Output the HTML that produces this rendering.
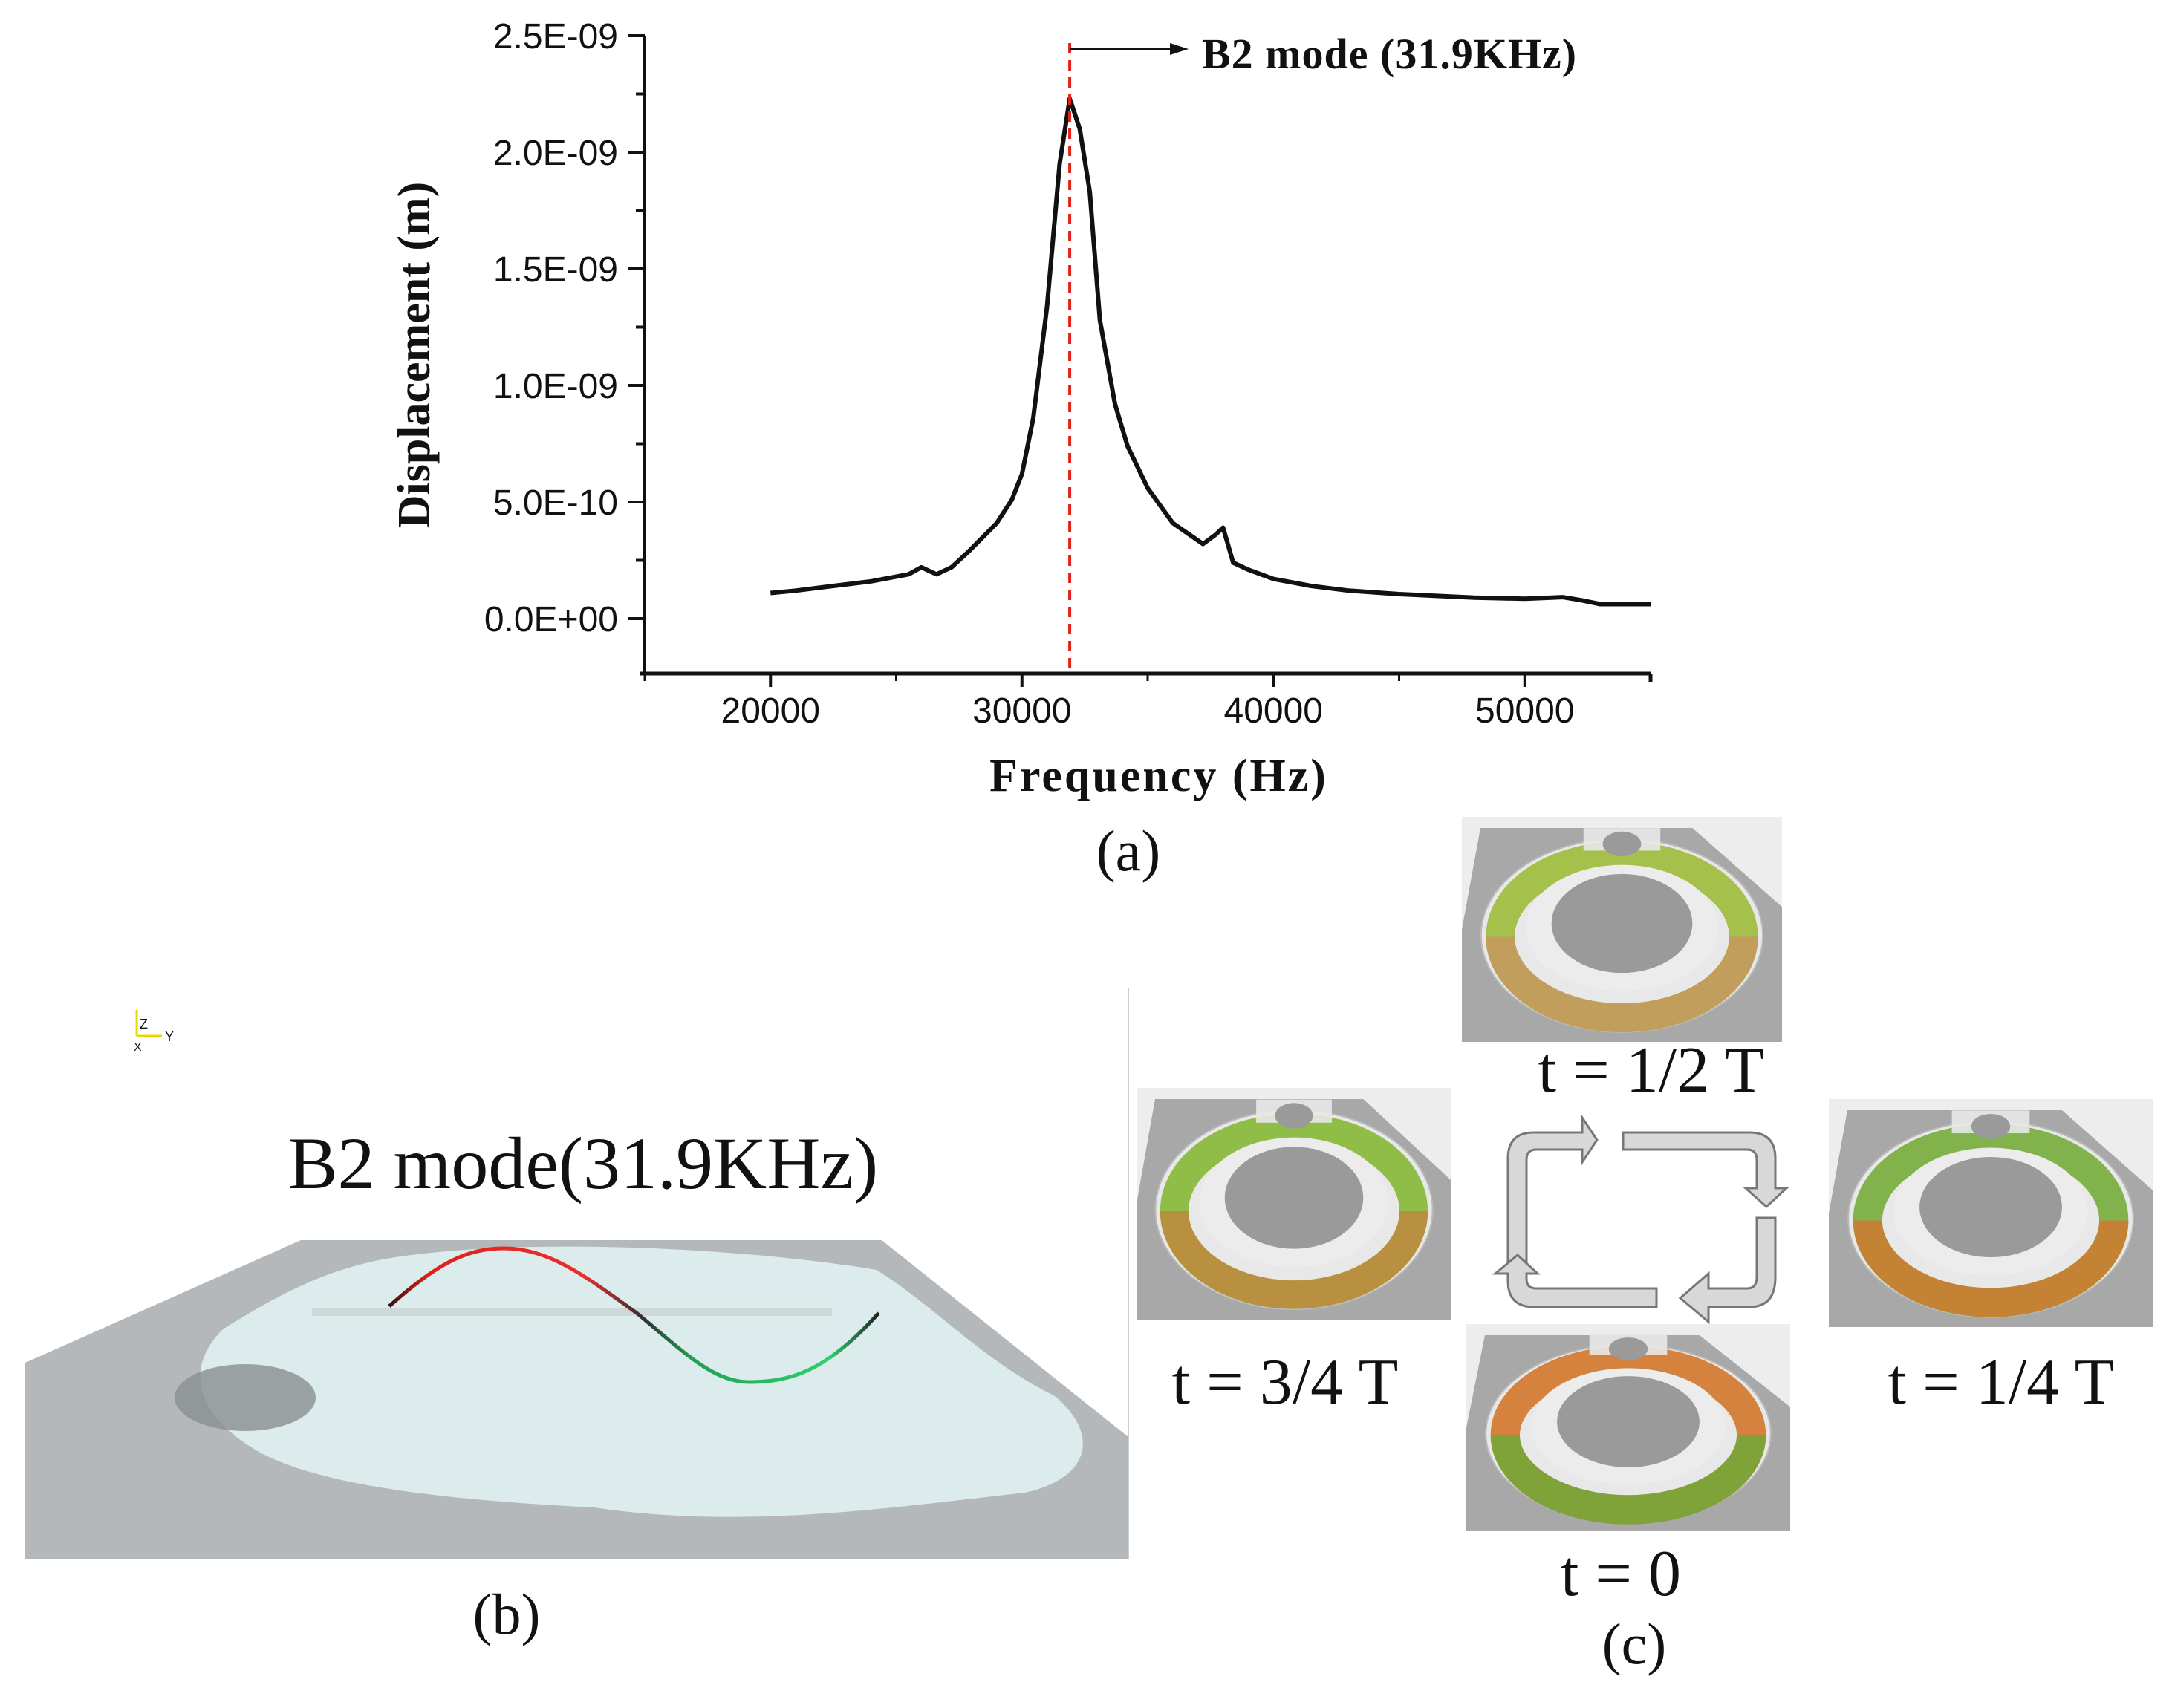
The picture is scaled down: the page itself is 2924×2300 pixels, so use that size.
<!DOCTYPE html>
<html><head><meta charset="utf-8">
<style>
html,body{margin:0;padding:0;background:#fff;}
svg{display:block;}
.tick{font-family:"Liberation Sans",sans-serif;font-size:48px;fill:#111;}
.serifb{font-family:"Liberation Serif",serif;font-weight:bold;fill:#111;}
.serif{font-family:"Liberation Serif",serif;fill:#111;}
</style></head>
<body>
<svg id="fig" width="2924" height="2300" viewBox="0 0 2924 2300" xmlns="http://www.w3.org/2000/svg">
<defs>
<linearGradient id="sineGrad" x1="524" y1="0" x2="1183" y2="0" gradientUnits="userSpaceOnUse">
<stop offset="0" stop-color="#3a1010"/><stop offset="0.08" stop-color="#e0201c"/><stop offset="0.4" stop-color="#e83030"/>
<stop offset="0.52" stop-color="#303030"/><stop offset="0.62" stop-color="#20a050"/><stop offset="0.9" stop-color="#30d070"/><stop offset="1" stop-color="#202020"/>
</linearGradient>
</defs>
<g id="chart"></g>
<g id="panelB">
  <path d="M405,1670 L1187,1670 L1519,1935 L1519,2099 L34,2099 L34,1835 Z" fill="#b4b8ba"/>
  <path d="M520,1695 C700,1665 1000,1680 1180,1710 C1260,1760 1320,1830 1420,1880 C1480,1930 1470,1990 1380,2010 C1200,2030 1000,2060 800,2030 C600,2020 420,2000 340,1950 C260,1900 250,1840 300,1790 C380,1740 440,1710 520,1695 Z" fill="#dcecec"/>
  <ellipse cx="330" cy="1882" rx="95" ry="45" fill="#8a8e90" opacity="0.8"/>
  <rect x="420" y="1762" width="700" height="10" fill="#c8d0d2" opacity="0.7"/>
  <path d="M524,1759 C590,1700 630,1681 678,1681 C740,1681 790,1720 857,1768 C920,1820 960,1861 1008,1861 C1060,1861 1110,1850 1183,1768" fill="none" stroke="url(#sineGrad)" stroke-width="5"/>
  <g>
    <line x1="184" y1="1395" x2="184" y2="1360" stroke="#e8d800" stroke-width="3"/>
    <line x1="184" y1="1395" x2="218" y2="1395" stroke="#e8d800" stroke-width="3"/>
    <text x="188" y="1385" class="tick" style="font-size:18px">Z</text>
    <text x="222" y="1402" class="tick" style="font-size:18px">Y</text>
    <text x="180" y="1415" class="tick" style="font-size:16px">X</text>
  </g>
  <text x="785" y="1600" class="serif" font-size="100" text-anchor="middle">B2 mode(31.9KHz)</text>
  <text x="682" y="2200" class="serif" font-size="78" text-anchor="middle">(b)</text>
  <line x1="1519" y1="1331" x2="1519" y2="2099" stroke="#ccc" stroke-width="2"/>
</g>
<g id="panelC"></g>
<g id="cycleArrows" fill="#d8d8d8" stroke="#777" stroke-width="3">
  <path d="M2030,1700 L2030,1560 Q2030,1525 2065,1525 L2130,1525 L2130,1505 L2150,1535 L2130,1565 L2130,1548 L2068,1548 Q2055,1548 2055,1562 L2055,1700 Z"/>
  <path d="M2185,1525 L2355,1525 Q2390,1525 2390,1560 L2390,1600 L2405,1600 L2378,1625 L2350,1600 L2365,1600 L2365,1562 Q2365,1548 2352,1548 L2185,1548 Z"/>
  <path d="M2390,1640 L2390,1720 Q2390,1760 2355,1760 L2300,1760 L2300,1780 L2262,1748 L2300,1715 L2300,1735 L2352,1735 Q2365,1735 2365,1720 L2365,1640 Z"/>
  <path d="M2230,1760 L2065,1760 Q2030,1760 2030,1725 L2030,1715 L2013,1715 L2043,1690 L2070,1715 L2055,1715 L2055,1722 Q2055,1735 2068,1735 L2230,1735 Z"/>
</g>
<text x="2200" y="2240" class="serif" font-size="78" text-anchor="middle">(c)</text>
<text x="1519" y="1172" class="serif" font-size="78" text-anchor="middle">(a)</text>
</svg>
<script>
// ---- chart data ----
const freqs = [20000,21000,22500,24000,25500,26000,26600,27200,27900,29000,29600,30000,30450,31000,31500,31900,32300,32700,33100,33700,34200,35000,36000,37200,37700,38000,38400,39000,40000,41500,43000,45000,48000,50000,51500,52200,53000,55000];
const disp  = [1.1e-10,1.2e-10,1.4e-10,1.6e-10,1.9e-10,2.2e-10,1.9e-10,2.2e-10,2.9e-10,4.1e-10,5.1e-10,6.2e-10,8.6e-10,1.34e-9,1.95e-9,2.23e-9,2.1e-9,1.83e-9,1.28e-9,9.2e-10,7.4e-10,5.6e-10,4.1e-10,3.2e-10,3.6e-10,3.9e-10,2.4e-10,2.1e-10,1.7e-10,1.4e-10,1.2e-10,1.05e-10,0.9e-10,0.85e-10,0.92e-10,0.8e-10,0.62e-10,0.62e-10];
const xTicks = [20000,30000,40000,50000];
const xTickLabels = ["20000","30000","40000","50000"];
const yTicks = [0,5e-10,1e-9,1.5e-9,2e-9,2.5e-9];
const yTickLabels = ["0.0E+00","5.0E-10","1.0E-09","1.5E-09","2.0E-09","2.5E-09"];
const modeFreq = [31900];

const NS = "http://www.w3.org/2000/svg";
const X0=868, X1=2222, Y0=907, Ytop=48;
const xMin=15000, xMax=55000;
function xs(v){ return X0 + (v-xMin)/(xMax-xMin)*(X1-X0); }
function ys(v){ return 833 - v/1e-9*314; }
function mk(tag, attrs, parent){ const e=document.createElementNS(NS,tag); for(const k in attrs) e.setAttribute(k,attrs[k]); parent.appendChild(e); return e; }

const chart = document.getElementById('chart');
let el;
el = mk('line',{x1:X0,y1:Ytop,x2:X0,y2:Y0,stroke:'#111','stroke-width':4},chart);


el = mk('line',{x1:X0-6,y1:Y0,x2:X1,y2:Y0,stroke:'#111','stroke-width':5},chart);


mk('line',{x1:X1,y1:Y0,x2:X1,y2:Y0+12,stroke:'#111','stroke-width':5},chart);
yTicks.forEach((v,i)=>{
  const y=ys(v);
  const t=mk('line',{x1:X0-22,y1:y,x2:X0,y2:y,stroke:'#111','stroke-width':4},chart);
  
  
  const lb=mk('text',{x:X0-36,y:y+17,'text-anchor':'end',class:'tick'},chart);
  lb.textContent=yTickLabels[i];
  
  
  if(i<yTicks.length-1){ const ym=ys(v+2.5e-10); const m=mk('line',{x1:X0-12,y1:ym,x2:X0,y2:ym,stroke:'#111','stroke-width':4},chart);
    
     }
});
xTicks.forEach((v,i)=>{
  const x=xs(v);
  const t=mk('line',{x1:x,y1:Y0,x2:x,y2:Y0+18,stroke:'#111','stroke-width':4},chart);
  
  
  const lb=mk('text',{x:x,y:Y0+66,'text-anchor':'middle',class:'tick'},chart);
  lb.textContent=xTickLabels[i];
  
  
  const xm=xs(v-5000); const m=mk('line',{x1:xm,y1:Y0,x2:xm,y2:Y0+10,stroke:'#111','stroke-width':3},chart);
  
  
});
let d='';
freqs.forEach((f,i)=>{ d+=(i?'L':'M')+xs(f).toFixed(1)+','+ys(disp[i]).toFixed(1); });
el = mk('path',{d:d,fill:'none',stroke:'#111','stroke-width':6,'stroke-linejoin':'round'},chart);


const mx=xs(modeFreq[0]);
el = mk('line',{x1:mx,y1:Ytop+10,x2:mx,y2:Y0,stroke:'#e8201c','stroke-width':4,'stroke-dasharray':'14,9'},chart);


el = mk('line',{x1:mx,y1:66,x2:1580,y2:66,stroke:'#111','stroke-width':3},chart);


mk('path',{d:'M1600,66 L1575,58 L1575,74 Z',fill:'#111'},chart);
el = mk('text',{x:1618,y:92,class:'serifb','font-size':58,'letter-spacing':'1'},chart);
el.textContent='B2 mode (31.9KHz)';


el = mk('text',{x:1560,y:1065,class:'serifb','font-size':62,'text-anchor':'middle','letter-spacing':'3'},chart);
el.textContent='Frequency (Hz)';


el = mk('text',{x:0,y:0,class:'serifb','font-size':62,'text-anchor':'middle',transform:'translate(578,478) rotate(-90)'},chart);
el.textContent='Displacement (m)';



// ---- ring images panel c ----
const pc=document.getElementById('panelC');
const rings=[
 {x:1968,y:1100,w:431,h:303,label:'t = 1/2 T',lx:2223,ly:1470,c1:'#9ab830',c2:'#c79860',name:'ring-half-period'},
 {x:1530,y:1465,w:424,h:312,label:'t = 3/4 T',lx:1730,ly:1890,c1:'#7fb52a',c2:'#c08840',name:'ring-three-quarter-period'},
 {x:2462,y:1480,w:436,h:307,label:'t = 1/4 T',lx:2694,ly:1890,c1:'#6ea830',c2:'#d07a30',name:'ring-quarter-period'},
 {x:1974,y:1783,w:436,h:279,label:'t = 0',lx:2182,ly:2148,c1:'#d07020',c2:'#70a838',name:'ring-zero'}
];
rings.forEach(r=>{
  const g=mk('g',{},pc);
  
  
  mk('rect',{x:r.x,y:r.y,width:r.w,height:r.h,fill:'#ededed'},g);
  mk('path',{d:`M${r.x+25},${r.y+15} L${r.x+r.w*0.72},${r.y+15} L${r.x+r.w},${r.y+r.h*0.4} L${r.x+r.w},${r.y+r.h} L${r.x},${r.y+r.h} L${r.x},${r.y+r.h*0.5} Z`,fill:'#a8a8a8'},g);
  const cx=r.x+r.w/2, cy=r.y+r.h*0.5;
  mk('ellipse',{cx:cx,cy:cy+8,rx:r.w*0.44,ry:r.h*0.43,fill:'#e8e8e8',stroke:'#bbb','stroke-width':2},g);
  mk('ellipse',{cx:cx,cy:cy+10,rx:r.w*0.38,ry:r.h*0.36,fill:'none',stroke:r.c1,'stroke-width':r.w*0.09,opacity:0.85},g);
  mk('path',{d:`M${cx-r.w*0.38},${cy+10} A${r.w*0.38},${r.h*0.36} 0 0 0 ${cx+r.w*0.38},${cy+10}`,fill:'none',stroke:r.c2,'stroke-width':r.w*0.09,opacity:0.85},g);
  mk('ellipse',{cx:cx,cy:cy-2,rx:r.w*0.3,ry:r.h*0.28,fill:'#ececec'},g);
  mk('ellipse',{cx:cx,cy:cy-8,rx:r.w*0.22,ry:r.h*0.22,fill:'#9a9a9a'},g);
  mk('rect',{x:cx-r.w*0.12,y:r.y+r.h*0.05,width:r.w*0.24,height:r.h*0.1,fill:'#e8e8e8',opacity:0.9},g);
  mk('ellipse',{cx:cx,cy:r.y+r.h*0.12,rx:r.w*0.06,ry:r.h*0.055,fill:'#9a9a9a'},g);
  const t=mk('text',{x:r.lx,y:r.ly,class:'serif','font-size':88,'text-anchor':'middle'},pc);
  t.textContent=r.label;
  
  
});
</script>
</body></html>
